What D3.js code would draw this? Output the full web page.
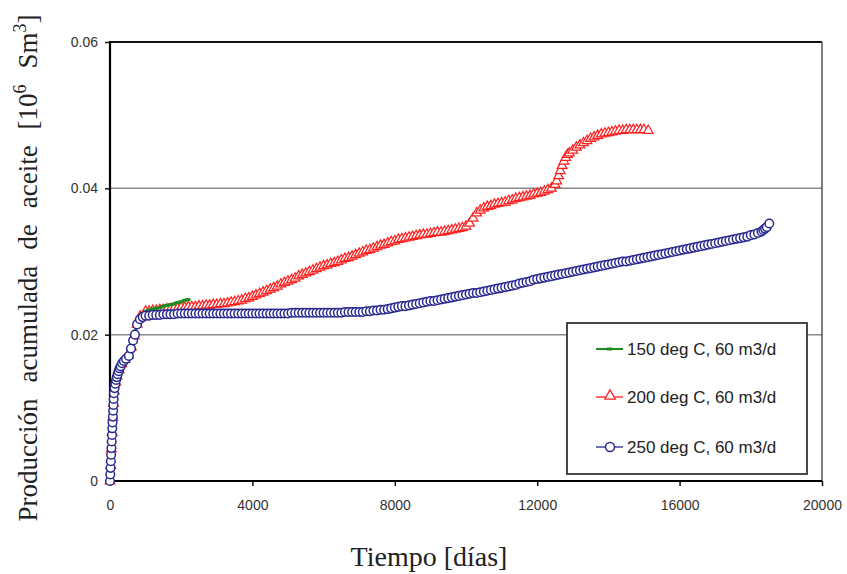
<!DOCTYPE html>
<html>
<head>
<meta charset="utf-8">
<script src="https://cdn.jsdelivr.net/npm/d3@7/dist/d3.min.js"></script>
<style>
  html, body { margin: 0; padding: 0; background: #fff; }
  svg { display: block; }
</style>
</head>
<body>
<svg id="chart" width="847" height="574"></svg>
<script>
// ---------- DATA ----------
const xTicks = [0, 4000, 8000, 12000, 16000, 20000];
const yTicks = [0, 0.02, 0.04, 0.06];
const seriesNames = ["150 deg C, 60 m3/d", "200 deg C, 60 m3/d", "250 deg C, 60 m3/d"];

// [days, cumulative oil 10^6 Sm3]
const green150 = [[0,0],[40,0.0045],[80,0.0088],[120,0.0124],[200,0.0143],[330,0.0160],[520,0.0172],[680,0.0198],[790,0.0222],[900,0.0229],
  [1000,0.0232],[1100,0.0234],[1200,0.0235],[1300,0.0236],[1400,0.0237],[1500,0.0239],[1600,0.0240],[1700,0.0241],[1800,0.0242],[1900,0.0244],
  [2000,0.0245],[2100,0.0247],[2190,0.0248]];

const red200 = [[0,0],[20,0.0021],[40,0.0044],[60,0.0066],[80,0.0087],[100,0.0106],[120,0.0123],[160,0.0135],[200,0.0143],[260,0.0152],
  [330,0.0160],[420,0.0166],[520,0.0172],[600,0.0183],[680,0.0198],[760,0.0214],[850,0.0225],
  [1000,0.0232],[1100,0.0232],[1200,0.0233],[1300,0.0233],[1400,0.0234],[1500,0.0234],[1600,0.0235],[1700,0.0235],[1800,0.0236],[1900,0.0236],
  [2000,0.0237],[2100,0.0237],[2200,0.0238],[2300,0.0238],[2400,0.0238],[2500,0.0239],[2600,0.0239],[2700,0.0240],[2800,0.0240],[2900,0.0241],
  [3000,0.0241],[3100,0.0242],[3200,0.0242],[3300,0.0243],[3400,0.0244],[3500,0.0245],[3600,0.0246],[3700,0.0247],[3800,0.0249],[3900,0.0250],
  [4000,0.0252],[4100,0.0254],[4200,0.0256],[4300,0.0258],[4400,0.0260],[4500,0.0262],[4600,0.0264],[4700,0.0266],[4800,0.0269],[4900,0.0271],
  [5000,0.0273],[5100,0.0275],[5200,0.0277],[5300,0.0280],[5400,0.0282],[5500,0.0284],[5600,0.0286],[5700,0.0288],[5800,0.0290],[5900,0.0292],
  [6000,0.0294],[6100,0.0295],[6200,0.0297],[6300,0.0298],[6400,0.0300],[6500,0.0302],[6600,0.0304],[6700,0.0305],[6800,0.0307],[6900,0.0309],
  [7000,0.0311],[7100,0.0313],[7200,0.0315],[7300,0.0316],[7400,0.0318],[7500,0.0320],[7600,0.0322],[7700,0.0323],[7800,0.0325],[7900,0.0327],
  [8000,0.0328],[8100,0.0330],[8200,0.0331],[8300,0.0332],[8400,0.0333],[8500,0.0334],[8600,0.0335],[8700,0.0336],[8800,0.0337],[8900,0.0337],
  [9000,0.0338],[9100,0.0339],[9200,0.0340],[9300,0.0340],[9400,0.0341],[9500,0.0342],[9600,0.0343],[9700,0.0344],[9800,0.0345],[9900,0.0346],
  [10000,0.0348],[10100,0.0352],[10200,0.0359],[10300,0.0366],[10400,0.0370],[10500,0.0373],[10600,0.0375],[10700,0.0376],[10800,0.0378],[10900,0.0379],
  [11000,0.0380],[11100,0.0381],[11200,0.0383],[11300,0.0384],[11400,0.0386],[11500,0.0387],[11600,0.0388],[11700,0.0389],[11800,0.0390],[11900,0.0392],
  [12000,0.0393],[12100,0.0394],[12200,0.0396],[12300,0.0398],[12400,0.0400],[12500,0.0405],[12550,0.0410],[12600,0.0417],[12650,0.0424],[12700,0.0431],
  [12750,0.0437],[12800,0.0442],[12850,0.0446],[12900,0.0448],[13000,0.0452],[13100,0.0456],[13200,0.0459],[13300,0.0462],[13400,0.0465],[13500,0.0468],
  [13600,0.0470],[13700,0.0472],[13800,0.0474],[13900,0.0475],[14000,0.0476],[14100,0.0477],[14200,0.0478],[14300,0.0479],[14400,0.0479],[14500,0.0480],
  [14600,0.0480],[14700,0.0480],[14800,0.0480],[14900,0.0480],[15000,0.0480],[15120,0.0479]];

const blue250 = [[0,0],[8,0.0009],[16,0.0018],[24,0.0027],[32,0.0036],[40,0.0045],[48,0.0054],[56,0.0063],[64,0.0072],[72,0.0080],
  [80,0.0088],[88,0.0096],[96,0.0104],[104,0.0112],[112,0.0120],[130,0.0127],[150,0.0133],[170,0.0138],[190,0.0142],[215,0.0146],
  [240,0.0150],[270,0.0154],[300,0.0157],[340,0.0161],[390,0.0164],[450,0.0167],[530,0.0171],[590,0.0181],[650,0.0192],[700,0.0200],
  [760,0.0214],[840,0.0221],[920,0.0224],
  [1000,0.0226],[1100,0.0226],[1200,0.0227],[1300,0.0227],[1400,0.0227],[1500,0.0228],[1600,0.0228],[1700,0.0228],[1800,0.0228],[1900,0.0229],
  [2000,0.0229],[2100,0.0229],[2200,0.0229],[2300,0.0229],[2400,0.0229],[2500,0.0229],[2600,0.0229],[2700,0.0229],[2800,0.0229],[2900,0.0229],
  [3000,0.0229],[3100,0.0229],[3200,0.0229],[3300,0.0229],[3400,0.0229],[3500,0.0229],[3600,0.0229],[3700,0.0229],[3800,0.0229],[3900,0.0229],
  [4000,0.0229],[4100,0.0229],[4200,0.0229],[4300,0.0229],[4400,0.0229],[4500,0.0229],[4600,0.0229],[4700,0.0229],[4800,0.0229],[4900,0.0229],
  [5000,0.0229],[5100,0.0230],[5200,0.0230],[5300,0.0230],[5400,0.0230],[5500,0.0230],[5600,0.0230],[5700,0.0230],[5800,0.0230],[5900,0.0230],
  [6000,0.0230],[6100,0.0230],[6200,0.0230],[6300,0.0230],[6400,0.0230],[6500,0.0230],[6600,0.0231],[6700,0.0231],[6800,0.0231],[6900,0.0231],
  [7000,0.0231],[7100,0.0231],[7200,0.0232],[7300,0.0232],[7400,0.0233],[7500,0.0233],[7600,0.0234],[7700,0.0234],[7800,0.0235],[7900,0.0236],
  [8000,0.0237],[8100,0.0238],[8200,0.0239],[8300,0.0239],[8400,0.0240],[8500,0.0241],[8600,0.0242],[8700,0.0243],[8800,0.0244],[8900,0.0245],
  [9000,0.0246],[9100,0.0246],[9200,0.0247],[9300,0.0248],[9400,0.0249],[9500,0.0250],[9600,0.0251],[9700,0.0252],[9800,0.0253],[9900,0.0254],
  [10000,0.0255],[10100,0.0256],[10200,0.0257],[10300,0.0257],[10400,0.0258],[10500,0.0259],[10600,0.0260],[10700,0.0261],[10800,0.0262],[10900,0.0263],
  [11000,0.0264],[11100,0.0265],[11200,0.0266],[11300,0.0267],[11400,0.0268],[11500,0.0270],[11600,0.0271],[11700,0.0272],[11800,0.0273],[11900,0.0275],
  [12000,0.0276],[12100,0.0277],[12200,0.0278],[12300,0.0279],[12400,0.0280],[12500,0.0281],[12600,0.0282],[12700,0.0283],[12800,0.0284],[12900,0.0285],
  [13000,0.0286],[13100,0.0287],[13200,0.0288],[13300,0.0289],[13400,0.0290],[13500,0.0291],[13600,0.0292],[13700,0.0293],[13800,0.0294],[13900,0.0295],
  [14000,0.0296],[14100,0.0297],[14200,0.0298],[14300,0.0299],[14400,0.0300],[14500,0.0300],[14600,0.0301],[14700,0.0302],[14800,0.0303],[14900,0.0304],
  [15000,0.0305],[15100,0.0306],[15200,0.0307],[15300,0.0308],[15400,0.0309],[15500,0.0310],[15600,0.0311],[15700,0.0312],[15800,0.0313],[15900,0.0314],
  [16000,0.0315],[16100,0.0316],[16200,0.0317],[16300,0.0318],[16400,0.0319],[16500,0.0320],[16600,0.0321],[16700,0.0322],[16800,0.0323],[16900,0.0324],
  [17000,0.0325],[17100,0.0326],[17200,0.0327],[17300,0.0328],[17400,0.0329],[17500,0.0330],[17600,0.0331],[17700,0.0332],[17800,0.0333],[17900,0.0334],
  [18000,0.0336],[18100,0.0337],[18200,0.0339],[18300,0.0341],[18350,0.0343],[18400,0.0345],[18450,0.0347],[18520,0.0352]];

// ---------- LAYOUT ----------
const svg = d3.select("#chart");
const pL = 110, pR = 822, pT = 42, pB = 481;
const x = d3.scaleLinear().domain([0, 20000]).range([pL, pR]);
const y = d3.scaleLinear().domain([0, 0.06]).range([pB, pT]);

const colGreen = "#1e8c1e", colRed = "#ff2020", colBlue = "#28288f";

// gridlines
svg.append("g").selectAll("line").data(yTicks.filter(d => d > 0 && d < 0.06)).join("line")
  .attr("x1", pL).attr("x2", pR).attr("y1", d => y(d)).attr("y2", d => y(d))
  .attr("stroke", "#8a8a8a").attr("stroke-width", 1.5);

// frame: top (black), right (grey)
svg.append("line").attr("x1", pL).attr("x2", pR).attr("y1", y(0.06)).attr("y2", y(0.06))
  .attr("stroke", "#111").attr("stroke-width", 2);
svg.append("line").attr("x1", pR).attr("x2", pR).attr("y1", pT).attr("y2", pB)
  .attr("stroke", "#555").attr("stroke-width", 1.5);

// axes
const yAxis = d3.axisLeft(y).tickValues(yTicks).tickSize(5).tickPadding(7)
  .tickFormat(d => d === 0 ? "0" : d3.format(".2f")(d));
const xAxis = d3.axisBottom(x).tickValues(xTicks).tickSize(5).tickPadding(14).tickFormat(d3.format("d"));

const gy = svg.append("g").attr("transform", `translate(${pL},0)`).call(yAxis);
const gx = svg.append("g").attr("transform", `translate(0,${pB})`).call(xAxis);
[gx, gy].forEach(g => {
  g.select(".domain").remove();
  g.selectAll(".tick line").attr("stroke", "#111").attr("stroke-width", 1.5);
  g.selectAll(".tick text").attr("font-family", "'Liberation Sans', Arial, sans-serif")
    .attr("font-size", 14).attr("fill", "#333");
});
svg.append("line").attr("x1", pL).attr("x2", pL).attr("y1", pT - 1).attr("y2", pB + 1)
  .attr("stroke", "#000").attr("stroke-width", 2.2);
svg.append("line").attr("x1", pL - 1).attr("x2", pR).attr("y1", pB).attr("y2", pB)
  .attr("stroke", "#000").attr("stroke-width", 2.2);

// ---------- SERIES ----------
const line = d3.line().x(d => x(d[0])).y(d => y(d[1]));
const tri = d3.symbol().type(d3.symbolTriangle).size(40);

// red
svg.append("path").datum(red200).attr("d", line).attr("fill", "none").attr("stroke", colRed).attr("stroke-width", 1);
svg.append("g").selectAll("path").data(red200).join("path")
  .attr("d", tri).attr("transform", d => `translate(${x(d[0])},${y(d[1])})`)
  .attr("fill", "#fff").attr("stroke", colRed).attr("stroke-width", 1.25);

// green
svg.append("path").datum(green150).attr("d", line).attr("fill", "none").attr("stroke", colGreen).attr("stroke-width", 2.5);
svg.append("g").selectAll("rect").data(green150).join("rect")
  .attr("x", d => x(d[0]) - 2.5).attr("y", d => y(d[1]) - 1.5).attr("width", 5).attr("height", 3)
  .attr("fill", colGreen);

// blue
svg.append("path").datum(blue250).attr("d", line).attr("fill", "none").attr("stroke", colBlue).attr("stroke-width", 1);
svg.append("g").selectAll("circle").data(blue250).join("circle")
  .attr("cx", d => x(d[0])).attr("cy", d => y(d[1])).attr("r", 4.3)
  .attr("fill", "#fff").attr("stroke", colBlue).attr("stroke-width", 1.5);

// ---------- LEGEND ----------
const lg = svg.append("g");
lg.append("rect").attr("x", 567).attr("y", 323).attr("width", 240).attr("height", 151)
  .attr("fill", "#fff").attr("stroke", "#333").attr("stroke-width", 1.8);
const legY = [349, 397, 447];
const legCols = [colGreen, colRed, colBlue];
seriesNames.forEach((name, i) => {
  const yy = legY[i];
  lg.append("line").attr("x1", 596).attr("x2", 623).attr("y1", yy).attr("y2", yy)
    .attr("stroke", legCols[i]).attr("stroke-width", i === 0 ? 2 : 1.3);
  if (i === 0) {
    lg.append("rect").attr("x", 607).attr("y", yy - 1.5).attr("width", 5).attr("height", 3).attr("fill", colGreen);
  } else if (i === 1) {
    lg.append("path").attr("d", d3.symbol().type(d3.symbolTriangle).size(48))
      .attr("transform", `translate(610,${yy - 1})`).attr("fill", "#fff").attr("stroke", colRed).attr("stroke-width", 1.3);
  } else {
    lg.append("circle").attr("cx", 610).attr("cy", yy).attr("r", 4.5)
      .attr("fill", "#fff").attr("stroke", colBlue).attr("stroke-width", 1.5);
  }
  lg.append("text").attr("x", 627).attr("y", yy + 6).text(name)
    .attr("font-family", "'Liberation Sans', Arial, sans-serif").attr("font-size", 17).attr("fill", "#222");
});

// ---------- TITLES ----------
const serif = "'Liberation Serif', 'Times New Roman', serif";
svg.append("text").attr("x", 429).attr("y", 566).attr("text-anchor", "middle")
  .attr("font-family", serif).attr("font-size", 28).attr("fill", "#222").text("Tiempo [días]");

const yt = svg.append("text").attr("transform", "translate(37,268) rotate(-90)")
  .attr("text-anchor", "middle").attr("font-family", serif).attr("font-size", 27).attr("fill", "#222");
yt.append("tspan").text("Producción acumulada de aceite [10");
yt.append("tspan").attr("font-size", 18).attr("dy", -11).text("6");
yt.append("tspan").attr("dy", 11).text(" Sm");
yt.append("tspan").attr("font-size", 18).attr("dy", -11).text("3");
yt.append("tspan").attr("dy", 11).text("]");
const len = yt.node().getComputedTextLength();
const target = 507;
if (len < target) yt.attr("word-spacing", (target - len) / 5);
</script>
</body>
</html>
